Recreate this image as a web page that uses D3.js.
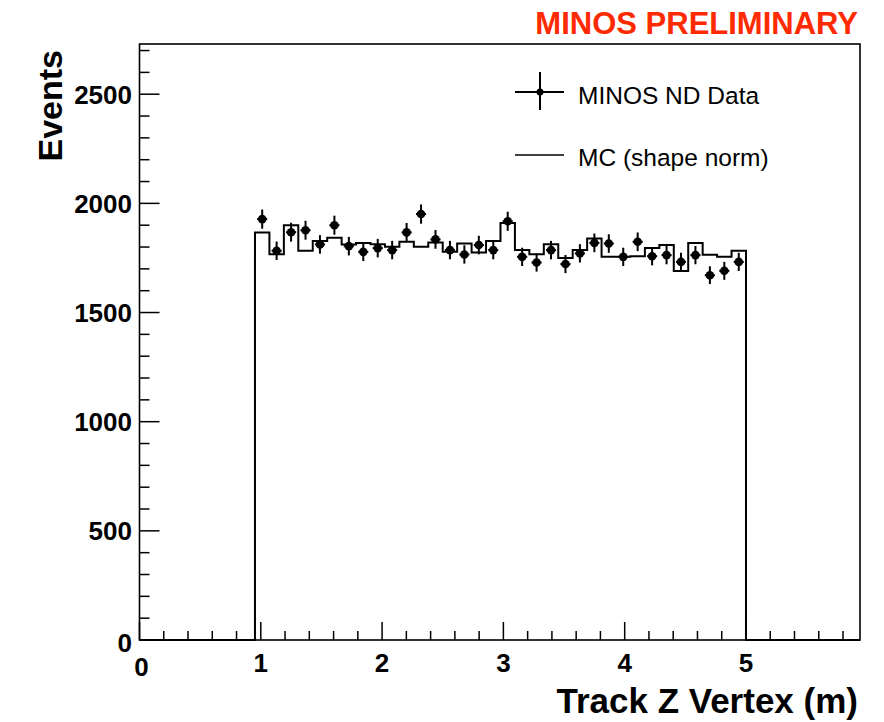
<!DOCTYPE html>
<html>
<head>
<meta charset="utf-8">
<script src="https://cdn.jsdelivr.net/npm/d3@7"></script>
<style>
  html, body { margin: 0; padding: 0; background: #fff; }
  svg { display: block; font-family: "Liberation Sans", Arial, Helvetica, sans-serif; }
</style>
</head>
<body>
<svg id="chart" width="884" height="722"></svg>
<script>
// Track Z vertex distribution, 34 bins between 0.952 m and 5.0 m
const binRange = [0.952, 5.0];
const dataCounts = [1928, 1783, 1868, 1877, 1812, 1900, 1804, 1778, 1795, 1786,
                    1867, 1951, 1835, 1786, 1766, 1809, 1786, 1918, 1755, 1729,
                    1786, 1722, 1771, 1819, 1816, 1755, 1824, 1758, 1763, 1732,
                    1763, 1671, 1691, 1732];
const mcCounts   = [1867, 1767, 1900, 1783, 1828, 1842, 1812, 1819, 1813, 1801,
                    1824, 1801, 1821, 1778, 1816, 1775, 1828, 1910, 1786, 1767,
                    1813, 1750, 1786, 1839, 1755, 1755, 1758, 1796, 1809, 1690,
                    1819, 1765, 1755, 1783];
const xMajorTicks = [0, 1, 2, 3, 4, 5];
const yMajorTicks = [0, 500, 1000, 1500, 2000, 2500];
const xDomain = [0, 5.94];
const yDomain = [0, 2730];

const svg = d3.select("#chart");
const plot = { left: 139.5, right: 860, top: 44, bottom: 640 };

const x = d3.scaleLinear().domain(xDomain).range([plot.left, plot.right]);
const y = d3.scaleLinear().domain(yDomain).range([plot.bottom, plot.top]);

const nBins = dataCounts.length;
const binW = (binRange[1] - binRange[0]) / nBins;
const edges = d3.range(nBins + 1).map(i => binRange[0] + i * binW);

// MC histogram outline (runs along zero outside the filled range)
const histPts = [[xDomain[0], 0], [binRange[0], 0]];
mcCounts.forEach((v, i) => { histPts.push([edges[i], v]); histPts.push([edges[i + 1], v]); });
histPts.push([binRange[1], 0], [xDomain[1], 0]);
svg.append("path")
  .attr("d", d3.line().x(d => x(d[0])).y(d => y(d[1]))(histPts))
  .attr("fill", "none").attr("stroke", "#000").attr("stroke-width", 2)
  .attr("stroke-linejoin", "miter");

// Data points with statistical error bars
const pts = svg.append("g");
dataCounts.forEach((v, i) => {
  const cx = x(edges[i] + binW / 2);
  const err = Math.sqrt(v);
  pts.append("line")
    .attr("x1", cx).attr("x2", cx).attr("y1", y(v - err)).attr("y2", y(v + err))
    .attr("stroke", "#000").attr("stroke-width", 2);
  pts.append("line")
    .attr("x1", x(edges[i] + binW * 0.15)).attr("x2", x(edges[i] + binW * 0.85))
    .attr("y1", y(v)).attr("y2", y(v))
    .attr("stroke", "#000").attr("stroke-width", 2);
  pts.append("circle").attr("cx", cx).attr("cy", y(v)).attr("r", 4.3).attr("fill", "#000");
});

// Frame
svg.append("rect")
  .attr("x", plot.left).attr("y", plot.top)
  .attr("width", plot.right - plot.left).attr("height", plot.bottom - plot.top)
  .attr("fill", "none").attr("stroke", "#000").attr("stroke-width", 1.6);

// X axis ticks (inside, pointing up)
const xMinor = d3.range(0, xDomain[1] + 1e-9, 0.2);
const xAxisG = svg.append("g");
xMinor.forEach(t => {
  const major = xMajorTicks.some(m => Math.abs(m - t) < 1e-6);
  xAxisG.append("line")
    .attr("x1", x(t)).attr("x2", x(t))
    .attr("y1", plot.bottom).attr("y2", plot.bottom - (major ? 18 : 9))
    .attr("stroke", "#000").attr("stroke-width", 1.5);
});
xAxisG.selectAll("text").data(xMajorTicks).join("text")
  .attr("x", d => x(d) + (d === 0 ? 2 : 0)).attr("y", d => d === 0 ? 676 : 672)
  .attr("text-anchor", "middle")
  .attr("font-size", 26).attr("font-weight", "bold")
  .text(d => d);

// Y axis ticks (inside, pointing right)
const yMinor = d3.range(0, yDomain[1] + 1e-9, 100);
const yAxisG = svg.append("g");
yMinor.forEach(t => {
  const major = yMajorTicks.includes(t);
  yAxisG.append("line")
    .attr("x1", plot.left).attr("x2", plot.left + (major ? 20 : 10))
    .attr("y1", y(t)).attr("y2", y(t))
    .attr("stroke", "#000").attr("stroke-width", 1.5);
});
yAxisG.selectAll("text").data(yMajorTicks).join("text")
  .attr("x", 132).attr("y", d => y(d) + (d === 0 ? 12 : 9.5))
  .attr("text-anchor", "end")
  .attr("font-size", 26).attr("font-weight", "bold")
  .text(d => d);

// Axis titles
svg.append("text")
  .attr("x", 858).attr("y", 713)
  .attr("text-anchor", "end")
  .attr("font-size", 35).attr("font-weight", "bold")
  .text("Track Z Vertex (m)");
svg.append("text")
  .attr("transform", "translate(62,50) rotate(-90)")
  .attr("text-anchor", "end")
  .attr("font-size", 34).attr("font-weight", "bold")
  .text("Events");

// Header
svg.append("text")
  .attr("x", 858).attr("y", 34)
  .attr("text-anchor", "end")
  .attr("font-size", 31).attr("font-weight", "bold")
  .attr("fill", "#ff2a00")
  .text("MINOS PRELIMINARY");

// Legend
const leg = svg.append("g");
leg.append("line").attr("x1", 515).attr("x2", 564).attr("y1", 92).attr("y2", 92)
  .attr("stroke", "#000").attr("stroke-width", 2);
leg.append("line").attr("x1", 540).attr("x2", 540).attr("y1", 72).attr("y2", 110)
  .attr("stroke", "#000").attr("stroke-width", 2);
leg.append("circle").attr("cx", 540).attr("cy", 92).attr("r", 3.5).attr("fill", "#000");
leg.append("text").attr("x", 578).attr("y", 104)
  .attr("font-size", 24.5).text("MINOS ND Data");
leg.append("line").attr("x1", 515).attr("x2", 564).attr("y1", 155).attr("y2", 155)
  .attr("stroke", "#000").attr("stroke-width", 1.6);
leg.append("text").attr("x", 578).attr("y", 166)
  .attr("font-size", 24.5).text("MC (shape norm)");
</script>
</body>
</html>
